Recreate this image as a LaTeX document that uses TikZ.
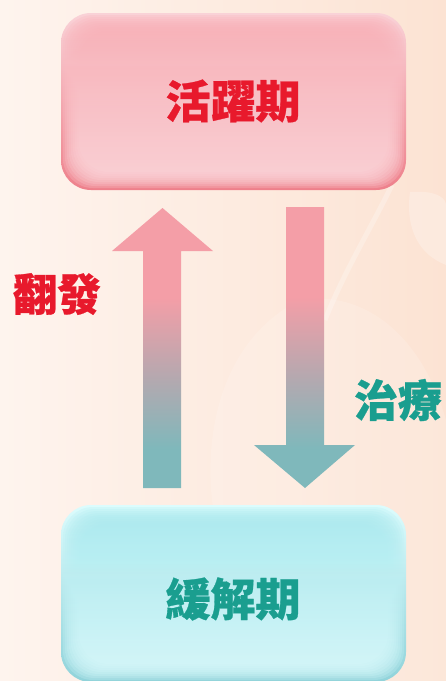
\documentclass[tikz,border=0pt]{standalone}
\usepackage{fontspec}
\newfontfamily\cjk{Noto Sans CJK TC}[BoldFeatures={FakeBold=0.6}]
\definecolor{bgL}{HTML}{FEF4EE}
\definecolor{bgR}{HTML}{FCE3D3}
\definecolor{arrPink}{HTML}{F49EA7}
\definecolor{arrMid}{HTML}{B6A8AF}
\definecolor{arrTeal}{HTML}{7FB8BB}
\definecolor{redT}{HTML}{E8192C}
\definecolor{tealT}{HTML}{1A9E8F}
\definecolor{pkOutTop}{HTML}{F9D2D7}
\definecolor{pkOutBot}{HTML}{EE808B}
\definecolor{pkInTop}{HTML}{FBB1B8}
\definecolor{pkInBot}{HTML}{FDD9DD}
\definecolor{cyOutTop}{HTML}{DCFCFD}
\definecolor{cyOutBot}{HTML}{90D3DA}
\definecolor{cyInTop}{HTML}{ABEAEF}
\definecolor{cyInBot}{HTML}{DCFBFD}
\pgfdeclareverticalshading{arrowgrad}{100bp}{color(0bp)=(arrTeal); color(32bp)=(arrTeal); color(45bp)=(arrMid); color(59bp)=(arrPink); color(100bp)=(arrPink)}
\newcommand\bevelbox[8]{%
  \shade[top color=#5, bottom color=#6, rounded corners=30pt] (#1,#2) rectangle (#3,#4);
  \foreach \k in {2,4,...,18}{%
    \shade[top color=#7, bottom color=#8, rounded corners=30pt, opacity=0.22] (#1+\k,#2+\k) rectangle (#3-\k,#4-\k);
  }%
}
\tikzset{
  boxtext/.style={font=\cjk\bfseries\fontsize{45}{45}\selectfont, inner sep=0pt},
  sidetext/.style={font=\cjk\bfseries\fontsize{44}{44}\selectfont, inner sep=0pt},
  arrowbody/.style={shading=arrowgrad}
}
\begin{document}
\begin{tikzpicture}[x=1pt,y=-1pt]
\useasboundingbox (0,0) rectangle (446,681);
% background
\shade[left color=bgL, right color=bgR] (0,0) rectangle (446,681);
\fill[white, opacity=0.15] (300,300) .. controls (220,340) and (200,440) .. (215,520) -- (215,681) -- (446,681) -- (446,420) .. controls (420,330) and (360,290) .. (300,300) -- cycle;
\draw[white, opacity=0.25, line width=5pt] (392,185) .. controls (370,230) and (345,270) .. (325,320);
\fill[white, opacity=0.25] (410,192) .. controls (440,190) and (446,200) .. (446,205) -- (446,265) .. controls (420,255) and (405,230) .. (410,192) -- cycle;
% boxes
\bevelbox{61}{13}{406}{190}{pkOutTop}{pkOutBot}{pkInTop}{pkInBot}
\bevelbox{61}{505}{406}{682}{cyOutTop}{cyOutBot}{cyInTop}{cyInBot}
\node[boxtext, text=redT] (active) at (233,101) {活躍期};
\node[boxtext, text=tealT] (remission) at (233,599) {緩解期};
% arrows
\shade[arrowbody] (143,488) -- (143,251) -- (112,251) -- (162.5,208) -- (213,251) -- (181,251) -- (181,488) -- cycle;
\shade[arrowbody] (286,207) -- (324,207) -- (324,445) -- (355,445) -- (305,488) -- (254,445) -- (286,445) -- cycle;
% labels
\node[sidetext, text=redT] (relapse) at (57,294) {翻發};
\node[sidetext, text=tealT] (treat) at (398,400) {治療};
\end{tikzpicture}
\end{document}
